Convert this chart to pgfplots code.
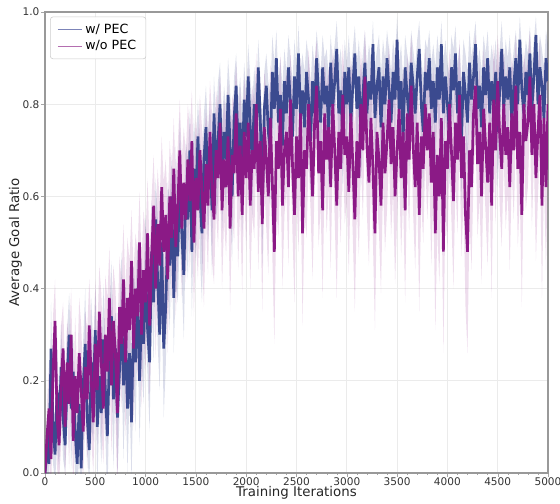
\documentclass[border=0pt]{standalone}
\usepackage{fontspec}
\setmainfont{DejaVu Sans}
\usepackage{pgfplots}
\usepackage{pgfplotstable}
\pgfplotsset{compat=1.18}
\usepgfplotslibrary{fillbetween}
\usetikzlibrary{calc}
\definecolor{withpec}{HTML}{3B4A8F}
\definecolor{wopec}{HTML}{8B1A86}
\definecolor{withpecleg}{HTML}{7C84B8}
\definecolor{wopecleg}{HTML}{B46EB0}

% x, w/ PEC mean + spread, w/o PEC mean + spread
\pgfplotstableread{
x    b    bs   p    ps
0    0.00 0.03 0.00 0.03
20   0.05 0.06 0.08 0.07
40   0.02 0.05 0.14 0.10
60   0.27 0.10 0.03 0.06
80   0.10 0.08 0.22 0.12
100  0.04 0.06 0.33 0.09
120  0.18 0.12 0.12 0.11
140  0.08 0.07 0.06 0.08
160  0.23 0.10 0.19 0.13
180  0.12 0.09 0.27 0.10
200  0.06 0.06 0.10 0.12
220  0.20 0.11 0.24 0.09
240  0.30 0.09 0.15 0.14
260  0.14 0.13 0.30 0.10
280  0.22 0.08 0.07 0.11
300  0.09 0.10 0.21 0.13
320  0.02 0.05 0.13 0.09
340  0.15 0.12 0.26 0.12
360  0.01 0.06 0.18 0.14
380  0.19 0.10 0.09 0.10
400  0.28 0.12 0.23 0.12
420  0.12 0.08 0.16 0.15
440  0.05 0.07 0.32 0.10
460  0.24 0.14 0.20 0.13
480  0.17 0.10 0.11 0.11
500  0.31 0.09 0.28 0.14
520  0.10 0.13 0.18 0.12
540  0.21 0.08 0.35 0.10
560  0.13 0.11 0.24 0.15
580  0.29 0.12 0.14 0.12
600  0.18 0.10 0.30 0.13
620  0.08 0.14 0.22 0.16
640  0.25 0.09 0.38 0.11
660  0.34 0.12 0.19 0.15
680  0.16 0.15 0.33 0.12
700  0.27 0.08 0.26 0.14
720  0.12 0.13 0.13 0.17
740  0.22 0.10 0.36 0.11
760  0.36 0.12 0.28 0.14
780  0.19 0.16 0.42 0.12
800  0.30 0.11 0.24 0.16
820  0.14 0.14 0.38 0.13
840  0.26 0.09 0.31 0.15
860  0.11 0.13 0.46 0.11
880  0.33 0.12 0.27 0.17
900  0.24 0.15 0.40 0.12
920  0.40 0.10 0.34 0.14
940  0.20 0.14 0.50 0.11
960  0.35 0.11 0.30 0.16
980  0.28 0.13 0.44 0.13
1000 0.44 0.12 0.37 0.15
1020 0.31 0.10 0.52 0.12
1040 0.24 0.15 0.32 0.16
1060 0.48 0.11 0.47 0.13
1080 0.37 0.13 0.58 0.11
1100 0.55 0.09 0.40 0.15
1120 0.42 0.14 0.54 0.12
1140 0.30 0.12 0.45 0.14
1160 0.50 0.10 0.62 0.11
1180 0.27 0.15 0.48 0.15
1200 0.36 0.13 0.56 0.12
1220 0.52 0.11 0.42 0.16
1240 0.45 0.14 0.60 0.12
1260 0.60 0.09 0.51 0.14
1280 0.38 0.12 0.66 0.11
1300 0.56 0.15 0.49 0.15
1320 0.47 0.10 0.58 0.13
1340 0.64 0.13 0.70 0.11
1360 0.52 0.11 0.53 0.15
1380 0.43 0.14 0.63 0.12
1400 0.62 0.10 0.55 0.14
1420 0.55 0.13 0.68 0.12
1440 0.70 0.09 0.59 0.15
1460 0.48 0.14 0.72 0.11
1480 0.66 0.11 0.50 0.16
1500 0.58 0.12 0.64 0.13
1520 0.73 0.08 0.57 0.15
1540 0.60 0.13 0.70 0.12
1560 0.52 0.15 0.61 0.14
1580 0.68 0.10 0.53 0.17
1600 0.75 0.09 0.67 0.12
1620 0.62 0.12 0.58 0.15
1640 0.70 0.10 0.74 0.11
1660 0.57 0.14 0.62 0.16
1680 0.78 0.08 0.55 0.14
1700 0.66 0.11 0.70 0.13
1720 0.72 0.13 0.64 0.15
1740 0.80 0.09 0.76 0.11
1760 0.64 0.12 0.57 0.17
1780 0.74 0.10 0.68 0.13
1800 0.68 0.11 0.62 0.15
1820 0.82 0.08 0.73 0.12
1840 0.71 0.12 0.53 0.18
1860 0.60 0.14 0.69 0.13
1880 0.77 0.09 0.65 0.15
1900 0.84 0.07 0.78 0.11
1920 0.70 0.11 0.60 0.16
1940 0.76 0.10 0.71 0.13
1960 0.65 0.13 0.56 0.17
1980 0.81 0.08 0.74 0.12
2000 0.73 0.09 0.64 0.16
2020 0.86 0.07 0.76 0.12
2040 0.75 0.11 0.58 0.18
2060 0.68 0.12 0.70 0.14
2080 0.80 0.08 0.66 0.15
2100 0.72 0.10 0.80 0.11
2120 0.88 0.06 0.61 0.17
2140 0.77 0.09 0.72 0.13
2160 0.58 0.13 0.54 0.19
2180 0.79 0.08 0.75 0.12
2200 0.84 0.07 0.68 0.15
2220 0.74 0.11 0.60 0.17
2240 0.70 0.12 0.77 0.12
2260 0.87 0.08 0.63 0.16
2280 0.79 0.10 0.48 0.20
2300 0.90 0.06 0.72 0.14
2320 0.76 0.09 0.66 0.15
2340 0.82 0.08 0.79 0.12
2360 0.71 0.13 0.58 0.18
2380 0.85 0.07 0.70 0.14
2400 0.78 0.09 0.74 0.13
2420 0.88 0.07 0.62 0.17
2440 0.80 0.10 0.81 0.11
2460 0.73 0.12 0.67 0.15
2480 0.86 0.08 0.56 0.19
2500 0.79 0.09 0.73 0.13
2520 0.91 0.06 0.64 0.16
2540 0.77 0.10 0.78 0.12
2560 0.83 0.08 0.52 0.20
2580 0.75 0.12 0.70 0.14
2600 0.87 0.07 0.66 0.15
2620 0.81 0.09 0.80 0.12
2640 0.72 0.12 0.71 0.14
2660 0.85 0.08 0.60 0.18
2680 0.78 0.10 0.76 0.13
2700 0.90 0.06 0.84 0.10
2720 0.82 0.09 0.65 0.16
2740 0.76 0.11 0.72 0.14
2760 0.88 0.07 0.57 0.19
2780 0.80 0.10 0.78 0.12
2800 0.84 0.08 0.68 0.16
2820 0.74 0.12 0.75 0.13
2840 0.89 0.06 0.62 0.18
2860 0.79 0.10 0.80 0.12
2880 0.85 0.08 0.70 0.15
2900 0.92 0.06 0.58 0.20
2920 0.78 0.11 0.74 0.13
2940 0.83 0.09 0.66 0.16
2960 0.73 0.12 0.82 0.11
2980 0.87 0.07 0.69 0.15
3000 0.80 0.09 0.73 0.14
3020 0.88 0.07 0.61 0.18
3040 0.76 0.11 0.78 0.12
3060 0.84 0.08 0.67 0.16
3080 0.91 0.06 0.55 0.20
3100 0.79 0.10 0.72 0.14
3120 0.86 0.08 0.64 0.17
3140 0.74 0.12 0.80 0.12
3160 0.82 0.09 0.70 0.15
3180 0.89 0.07 0.86 0.10
3200 0.78 0.10 0.71 0.15
3220 0.85 0.08 0.63 0.18
3240 0.81 0.09 0.77 0.13
3260 0.93 0.05 0.66 0.16
3280 0.77 0.11 0.52 0.21
3300 0.84 0.08 0.74 0.14
3320 0.88 0.07 0.68 0.16
3340 0.75 0.12 0.58 0.19
3360 0.86 0.08 0.76 0.13
3380 0.80 0.10 0.65 0.17
3400 0.90 0.06 0.72 0.15
3420 0.83 0.09 0.81 0.12
3440 0.76 0.11 0.67 0.16
3460 0.87 0.07 0.75 0.14
3480 0.81 0.09 0.60 0.19
3500 0.94 0.05 0.70 0.15
3520 0.79 0.10 0.79 0.12
3540 0.85 0.08 0.64 0.17
3560 0.72 0.13 0.74 0.14
3580 0.88 0.07 0.57 0.20
3600 0.82 0.09 0.78 0.13
3620 0.77 0.11 0.68 0.16
3640 0.89 0.07 0.84 0.11
3660 0.84 0.08 0.71 0.15
3680 0.78 0.10 0.62 0.18
3700 0.86 0.08 0.76 0.13
3720 0.92 0.06 0.56 0.21
3740 0.80 0.10 0.73 0.14
3760 0.74 0.12 0.66 0.16
3780 0.87 0.07 0.80 0.12
3800 0.83 0.09 0.70 0.15
3820 0.90 0.06 0.78 0.13
3840 0.79 0.10 0.63 0.18
3860 0.85 0.08 0.74 0.14
3880 0.76 0.12 0.52 0.21
3900 0.88 0.07 0.69 0.16
3920 0.81 0.09 0.60 0.19
3940 0.93 0.05 0.77 0.13
3960 0.78 0.11 0.48 0.22
3980 0.86 0.08 0.72 0.15
4000 0.80 0.09 0.66 0.17
4020 0.74 0.12 0.80 0.12
4040 0.88 0.07 0.70 0.15
4060 0.83 0.09 0.59 0.19
4080 0.91 0.06 0.76 0.13
4100 0.78 0.10 0.68 0.16
4120 0.85 0.08 0.82 0.12
4140 0.72 0.13 0.64 0.17
4160 0.87 0.07 0.73 0.14
4180 0.82 0.09 0.56 0.20
4200 0.76 0.11 0.48 0.22
4220 0.89 0.07 0.70 0.15
4240 0.81 0.09 0.62 0.18
4260 0.86 0.08 0.78 0.13
4280 0.93 0.05 0.84 0.11
4300 0.79 0.10 0.67 0.16
4320 0.84 0.08 0.74 0.14
4340 0.75 0.12 0.60 0.19
4360 0.88 0.07 0.79 0.13
4380 0.82 0.09 0.71 0.15
4400 0.90 0.06 0.63 0.18
4420 0.78 0.10 0.76 0.14
4440 0.85 0.08 0.58 0.20
4460 0.80 0.09 0.81 0.12
4480 0.87 0.07 0.70 0.16
4500 0.74 0.12 0.85 0.10
4520 0.83 0.09 0.73 0.15
4540 0.92 0.06 0.66 0.17
4560 0.79 0.10 0.80 0.12
4580 0.86 0.08 0.69 0.16
4600 0.81 0.09 0.75 0.14
4620 0.88 0.07 0.62 0.18
4640 0.76 0.11 0.78 0.13
4660 0.84 0.08 0.70 0.15
4680 0.90 0.06 0.84 0.11
4700 0.80 0.10 0.66 0.17
4720 0.94 0.05 0.74 0.14
4740 0.83 0.09 0.56 0.20
4760 0.78 0.10 0.80 0.12
4780 0.87 0.07 0.72 0.15
4800 0.82 0.09 0.76 0.14
4820 0.91 0.06 0.86 0.10
4840 0.79 0.10 0.69 0.16
4860 0.86 0.08 0.80 0.12
4880 0.95 0.04 0.64 0.18
4900 0.80 0.10 0.74 0.14
4920 0.88 0.07 0.82 0.12
4940 0.84 0.08 0.58 0.20
4960 0.77 0.11 0.77 0.13
4980 0.90 0.06 0.62 0.18
5000 0.85 0.08 0.80 0.12
}\runs

\begin{document}
\begin{tikzpicture}
\begin{axis}[
    width=12.575cm, height=11.525cm,
    scale only axis,
    xmin=0, xmax=5000,
    ymin=0, ymax=1,
    xtick={0,500,...,5000},
    ytick={0,0.2,...,1.0},
    minor x tick num=4,
    yticklabel style={xshift=2pt, /pgf/number format/.cd, fixed, fixed zerofill, precision=1},
    xticklabel style={yshift=2.5pt},
    /pgf/number format/1000 sep={},
    /pgf/number format/assume math mode=true,
    tick label style={font=\fontsize{7.5}{8}\selectfont, text=black!80},
    label style={font=\fontsize{9.5}{11}\selectfont, text=black!85},
    xlabel={Training Iterations},
    ylabel={Average Goal Ratio},
    xlabel style={at={(axis description cs:0.5,0)}, anchor=center, yshift=-0.5cm},
    ylabel style={at={(axis description cs:0,0.5)}, anchor=center, yshift=0.74cm},
    tick align=outside,
    major tick length=2.5pt,
    minor tick length=1.5pt,
    tick style={gray!70},
    xtick pos=bottom, ytick pos=left,
    axis line style={gray!80, line width=0.8pt},
    grid=major,
    major grid style={black!8, line width=0.6pt},
    legend style={at={(0.01,0.99)}, anchor=north west,
        font=\fontsize{9}{11}\selectfont, draw=black!20, rounded corners=2pt,
        fill=white, fill opacity=0.9, text opacity=1,
        row sep=-0.5pt, inner xsep=5pt, inner ysep=3pt},
    legend cell align=left,
]
\coordinate (sw) at (rel axis cs:0,0);
\coordinate (ne) at (rel axis cs:1,1);
\addplot[name path=bhi, draw=none, forget plot] table[x=x, y expr=\thisrow{b}+\thisrow{bs}] {\runs};
\addplot[name path=blo, draw=none, forget plot] table[x=x, y expr=\thisrow{b}-\thisrow{bs}] {\runs};
\addplot[withpec, fill opacity=0.18, forget plot] fill between[of=bhi and blo];
\addplot[name path=phi, draw=none, forget plot] table[x=x, y expr=\thisrow{p}+\thisrow{ps}] {\runs};
\addplot[name path=plo, draw=none, forget plot] table[x=x, y expr=\thisrow{p}-\thisrow{ps}] {\runs};
\addplot[wopec, fill opacity=0.15, forget plot] fill between[of=phi and plo];

\addplot[withpec, line width=1.9pt, forget plot] table[x=x, y=b] {\runs};
\addplot[wopec, line width=1.9pt, forget plot] table[x=x, y=p] {\runs};

\addlegendimage{line legend, draw=withpecleg, line width=0.8pt}
\addlegendentry{w/ PEC}
\addlegendimage{line legend, draw=wopecleg, line width=0.8pt}
\addlegendentry{w/o PEC}
\end{axis}
\pgfresetboundingbox
\path[use as bounding box] ($(sw)+(-1.125cm,-0.75cm)$) rectangle ($(ne)+(0.3cm,0.3cm)$);
\end{tikzpicture}
\end{document}
